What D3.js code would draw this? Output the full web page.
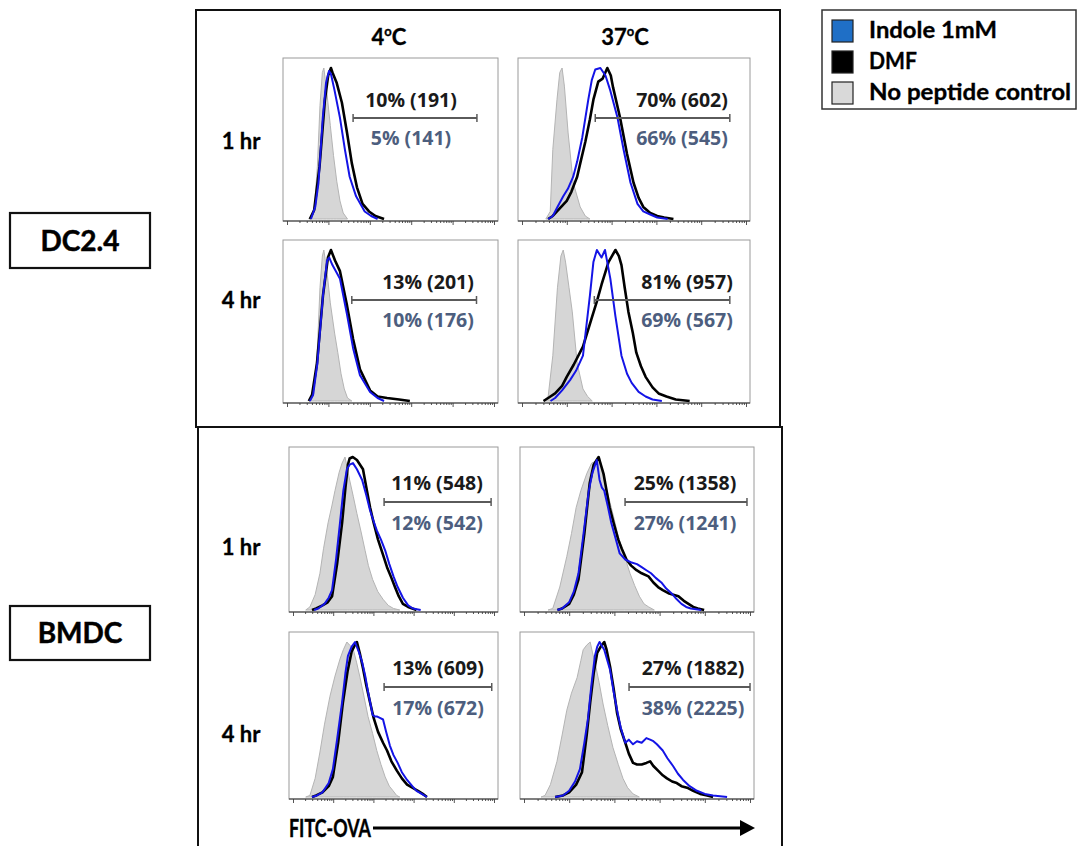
<!DOCTYPE html>
<html><head><meta charset="utf-8">
<script src="https://cdn.jsdelivr.net/npm/d3@7"></script>
<style>html,body{margin:0;padding:0;background:#fff}</style>
</head><body>
<svg id="chart" width="1079" height="846"></svg>
<script>
// ---------------- DATA ----------------
const cellLines = ["DC2.4", "BMDC"];
const times = ["1 hr", "4 hr"];
const temps = ["4", "37"];
const legendLabels = ["Indole 1mM", "DMF", "No peptide control"];
const axisLabel = "FITC-OVA";

// panel order: DC2.4 1h 4C, DC2.4 1h 37C, DC2.4 4h 4C, DC2.4 4h 37C, BMDC 1h 4C, BMDC 1h 37C, BMDC 4h 4C, BMDC 4h 37C
const statsDMF = ["10% (191)", "70% (602)", "13% (201)", "81% (957)", "11% (548)", "25% (1358)", "13% (609)", "27% (1882)"];
const statsIndole = ["5% (141)", "66% (545)", "10% (176)", "69% (567)", "12% (542)", "27% (1241)", "17% (672)", "38% (2225)"];
const gateStart = [32.6, 33.3, 32.0, 32.9, 45.5, 44.9, 45.5, 46.6];
const gateEnd = [90.2, 91.3, 90.0, 91.3, 96.7, 97.0, 97.0, 98.3];

// histograms: [fluorescence (% of axis), count (% of max)]
const dc1h4Grey = [[12,0],[14.5,5],[16,35],[17.2,75],[18.3,97],[19,100],[20.3,85],[22,62],[23.5,42],[25,25],[26.5,12],[28,4],[30,0]];
const dc1h4Blue = [[13,0],[15,8],[16.5,24],[18.5,67],[20,90],[21.4,98],[22.3,96],[24,85],[26.5,67],[28.8,46],[31,28],[34,15],[38,5],[41,2],[44,0]];
const dc1h4Black = [[12.5,0],[14.5,6],[17,35],[19.5,79],[21,95],[22.3,100],[23,97],[25,90],[27.4,77],[29.8,57],[32,37],[34.4,21],[37,10],[40,5],[43,2],[47,0]];

const dc1h37Grey = [[12,0],[13.9,5],[15,46],[16.8,79],[18,97],[19,100],[20,88],[21.6,57],[23.8,24],[26.8,8],[29,2],[31,0]];
const dc1h37Blue = [[13,0],[15,2],[17,8],[19.5,15],[21.5,20],[23.8,28],[25.5,38],[27.7,54],[30.3,79],[31.8,92],[33.3,99],[35.5,100],[37.7,95],[39.8,85],[42.9,67],[45.5,46],[48.5,24],[51.5,10],[54,5],[57,3],[60,1],[64.5,0]];
const dc1h37Black = [[13,0],[15,2],[18,7],[21,12],[23,18],[25.5,28],[27,38],[29,51],[31,66],[32.5,79],[34.6,91],[36.5,93],[38.5,100],[40,95],[41,87],[44,67],[47,43],[49.8,24],[52,14],[54,8],[57,4],[60,2],[63,1],[67,0]];

const dc4h4Grey = [[12,0],[14.5,5],[16,35],[17.2,75],[18.3,96],[19,100],[20.5,85],[22,65],[24,45],[25.5,32],[27,18],[28.5,8],[30,2],[32,0]];
const dc4h4Blue = [[12.5,0],[14,4],[16,25],[18.6,70],[20.5,93],[21.5,95],[23,90],[26.5,81],[29.8,57],[32.6,35],[35.8,17],[40.5,6],[44,2],[47,0]];
const dc4h4Black = [[12,0],[13.5,4],[15.8,25],[18.6,70],[20.9,95],[22.3,100],[24.2,93],[26.5,86],[29.8,63],[32.6,41],[35.8,21],[40.5,7],[44,3],[48.4,2],[54,1],[59,0]];

const dc4h37Grey = [[11,0],[13,3],[15,30],[17,75],[18.5,96],[19.5,100],[20.5,92],[22,75],[23.4,59],[25.5,25],[28,8],[30,3],[32,0]];
const dc4h37Blue = [[14,0],[16,2],[19,7],[22.5,14],[25,20],[28,30],[29.5,50],[31,70],[32.5,92],[34,100],[36,95],[37.5,100],[39.8,81],[42,56],[44.6,30],[47,18],[49,12],[52,6],[55,3],[58,1],[62,0]];
const dc4h37Black = [[11,0],[13,2],[16,5],[19,10],[21,16],[24,24],[28,36],[31.6,54],[34,66],[36,77],[39,92],[42,100],[43.5,96],[44.6,90],[46,75],[47.6,59],[49.5,45],[51,32],[53,23],[55,16],[58,9],[60.6,5],[64,3],[68,1],[74,0]];

const bm1h4Grey = [[8,0],[10,2],[12.5,10],[14.8,24],[16.5,40],[18.7,57],[20.5,68],[22,78],[24,90],[25.4,96],[26.8,100],[28,92],[29,85],[30.8,74],[32.5,63],[34.5,51],[36.4,39],[38,29],[40,20],[42.5,12],[45,7],[47.5,3],[50,1],[53,0]];
const bm1h4Blue = [[12,0],[14,1],[17,4],[19,8],[20.6,13],[22.5,33],[24.4,57],[26,78],[27.7,92],[29,95],[30.6,96],[32.5,92],[35,85],[37,75],[38.8,65],[40.5,58],[42,52],[44,46],[46,39],[48,30],[50,22],[52,15],[54.5,8],[57,3],[59.3,1],[63,0]];
const bm1h4Black = [[11,0],[13,1],[16,3],[18.5,5],[20.6,9],[23,30],[25.4,57],[27,80],[28.2,95],[29,99],[30.5,100],[32.5,98],[35.4,92],[37,80],[38.8,67],[40.5,57],[42.6,46],[45,36],[46.9,28],[49,21],[50.7,15],[52.5,9],[54.5,4],[57,2],[61,0]];

const bm1h37Grey = [[12,0],[14,1],[17,15],[20,35],[22,50],[24,67],[26,78],[28.5,89],[30.6,96],[32,97],[34,100],[35,92],[36,85],[38,73],[40,61],[42,48],[44.7,35],[47,24],[49,16],[51,9],[53,4],[55,2],[57.4,0]];
const bm1h37Blue = [[16,0],[18,1],[21,5],[23,12],[25,24],[27,48],[29.4,78],[31,90],[32.8,98],[34,85],[35,80],[36,78],[37.5,68],[39,57],[40.8,47],[42.6,37],[45,33],[47.7,31],[50,30],[52,28],[54,26],[56,24],[58,21],[60.4,18],[62.5,14],[64.7,11],[67,7],[69,4],[71,2],[73,1],[77.4,0]];
const bm1h37Black = [[16,0],[18,1],[21,4],[23,10],[25,20],[27.5,50],[29.8,83],[31.5,95],[33.6,100],[35.7,89],[37,78],[38.3,67],[40,57],[42,46],[43.5,40],[45.5,33],[47.5,29],[49.8,26],[52,24],[54.9,22],[57,18],[59,15],[61,13],[63.4,11],[65.5,10],[67.7,9],[70,6],[72,4],[74,2],[76,1],[78.7,0]];

const bm4h4Grey = [[8,0],[10,1],[12.5,12],[14.8,29],[17,47],[19.6,65],[22,78],[24.4,89],[26,95],[27.7,100],[29,98],[30.6,96],[32.3,87],[34,77],[36,64],[37.8,52],[40,41],[42,30],[44,21],[46,13],[48,7],[49.8,4],[51.5,1],[53,0]];
const bm4h4Blue = [[11,0],[13.4,1],[16,3],[19,9],[21,18],[23,37],[25.4,61],[27,80],[28.2,91],[30,97],[31.6,100],[33.3,94],[35,87],[36.5,78],[37.8,68],[39,60],[40,53],[41,52],[42,52],[43.5,51],[45,50],[46.5,42],[48.3,33],[50,27],[52,22],[54,16],[56.5,11],[59,7],[61,4],[63.5,2],[66,0]];
const bm4h4Black = [[11,0],[13,1],[16,3],[19,7],[21,13],[23.5,35],[25.8,61],[28,81],[30,94],[31.5,98],[32.5,100],[34,92],[35.4,83],[37,72],[38.8,61],[40.5,51],[42.6,42],[45,35],[46.9,30],[49,23],[51.6,17],[54,12],[56.5,8],[59,6],[61.7,4],[64,2],[66,0]];

const bm4h37Grey = [[9,0],[10.7,1],[13,8],[15.8,23],[18,40],[20,56],[22,67],[24.4,77],[26,88],[27,95],[28.5,98],[30,100],[31,93],[32,87],[33.8,74],[35.5,60],[37.5,46],[39.7,32],[42,21],[44,12],[46,6],[48.3,2],[51,0]];
const bm4h37Blue = [[15,0],[18.4,1],[21,4],[23.5,10],[25.6,18],[27.5,35],[29,50],[30.5,72],[32,91],[33,97],[34,100],[36,95],[38.5,82],[40,68],[41.5,56],[43,45],[45,35],[46.5,37],[48.3,34],[50,36],[52,35],[54,38],[55.6,37],[57,36],[58.5,34],[61,30],[63,25],[65.4,20],[67.5,15],[69.7,11],[72.5,7],[75.6,4],[79,2],[82.5,1],[88.5,0]];
const bm4h37Black = [[15,0],[18.4,1],[21,3],[24,8],[26.5,16],[28.5,40],[30,61],[31.5,80],[33,93],[34.5,97],[36,100],[37,95],[38.5,84],[40,70],[41.5,54],[43,44],[45,35],[46.5,28],[48.3,22],[50,21],[52,21],[54,22],[55.6,23],[57,20],[59,17],[61,14],[62.8,12],[65,10],[67,9],[69,7],[71.4,6],[74,4],[77,2],[80,1],[82.5,0]];

const greySeries = [dc1h4Grey, dc1h37Grey, dc4h4Grey, dc4h37Grey, bm1h4Grey, bm1h37Grey, bm4h4Grey, bm4h37Grey];
const blueSeries = [dc1h4Blue, dc1h37Blue, dc4h4Blue, dc4h37Blue, bm1h4Blue, bm1h37Blue, bm4h4Blue, bm4h37Blue];
const blackSeries = [dc1h4Black, dc1h37Black, dc4h4Black, dc4h37Black, bm1h4Black, bm1h37Black, bm4h4Black, bm4h37Black];

// ---------------- LAYOUT ----------------
const svg = d3.select("#chart");
const labelFont = "Lato, 'Open Sans', sans-serif";
const numFont = "'Open Sans', sans-serif";
const colBlue = "#1414e6", colBlack = "#000", colGreyFill = "#d6d6d6", colGreyLine = "#b4b4b4";
const colStat2 = "#4d5e7e";

const panels = [
  {x0:283,x1:498,y0:58,y1:221, lx:128},
  {x0:518,x1:750,y0:58,y1:221, lx:164},
  {x0:283,x1:498,y0:240,y1:403, lx:145},
  {x0:518,x1:750,y0:240,y1:403, lx:169},
  {x0:289,x1:498,y0:447,y1:612, lx:148},
  {x0:520,x1:754,y0:447,y1:612, lx:165},
  {x0:289,x1:498,y0:632,y1:799, lx:149},
  {x0:520,x1:754,y0:632,y1:799, lx:173}
];

// outer group boxes
svg.append("rect").attr("x",196).attr("y",10).attr("width",584).attr("height",417)
  .attr("fill","none").attr("stroke","#111").attr("stroke-width",2);
svg.append("rect").attr("x",198).attr("y",427).attr("width",584).attr("height",430)
  .attr("fill","none").attr("stroke","#111").attr("stroke-width",2);

// cell line labels
const cellBoxes = [{y:213,h:55},{y:606,h:54}];
cellLines.forEach((c,i)=>{
  const b = cellBoxes[i];
  svg.append("rect").attr("x",10).attr("y",b.y).attr("width",140).attr("height",b.h)
    .attr("fill","#fff").attr("stroke","#111").attr("stroke-width",2.2);
  svg.append("text").attr("x",80).attr("y",b.y+b.h/2+10).attr("text-anchor","middle")
    .attr("font-family",labelFont).attr("font-weight","bold").attr("font-size",28)
    .attr("stroke","#000").attr("stroke-width",0.5).text(c);
});

// temperature headers
const headerX = [389, 625];
temps.forEach((t,i)=>{
  const tx = svg.append("text").attr("x",headerX[i]).attr("y",45).attr("text-anchor","middle")
    .attr("font-family",labelFont).attr("font-weight","bold").attr("font-size",22)
    .attr("stroke","#000").attr("stroke-width",0.3);
  tx.append("tspan").text(t);
  tx.append("tspan").attr("font-size",13).attr("dy",-9).text("o");
  tx.append("tspan").attr("dy",9).text("C");
});

// time labels
const rowLabelY = [149, 308, 555, 742];
rowLabelY.forEach((y,i)=>{
  svg.append("text").attr("x",241).attr("y",y).attr("text-anchor","middle")
    .attr("font-family",labelFont).attr("font-weight","bold").attr("font-size",22)
    .attr("stroke","#000").attr("stroke-width",0.3).text(times[i%2]);
});

// panels
panels.forEach((p,i)=>{
  const g = svg.append("g");
  const x = d3.scaleLinear().domain([0,100]).range([p.x0,p.x1]);
  const y = d3.scaleLinear().domain([0,100]).range([p.y1-2, p.y0+10]);
  const logX = d3.scaleLog().domain([1,1e5]).range([p.x0+4,p.x1-4]);
  g.append("rect").attr("x",p.x0).attr("y",p.y0).attr("width",p.x1-p.x0).attr("height",p.y1-p.y0)
    .attr("fill","#fff").attr("stroke","#9a9a9a").attr("stroke-width",1);
  const area = d3.area().x(d=>x(d[0])).y0(y(0)).y1(d=>y(d[1]));
  const line = d3.line().x(d=>x(d[0])).y(d=>y(d[1]));
  g.append("path").datum(greySeries[i]).attr("d",area).attr("fill",colGreyFill).attr("stroke",colGreyLine).attr("stroke-width",1);
  g.append("path").datum(blackSeries[i]).attr("d",line).attr("fill","none").attr("stroke",colBlack).attr("stroke-width",2.6).attr("stroke-linejoin","round");
  g.append("path").datum(blueSeries[i]).attr("d",line).attr("fill","none").attr("stroke",colBlue).attr("stroke-width",2).attr("stroke-linejoin","round");
  // axis ticks
  const minor = [], major = [];
  for (let k=0;k<5;k++) for (let m=1;m<10;m++){ (m===1?major:minor).push(m*Math.pow(10,k)); }
  major.push(1e5);
  const ax1 = g.append("g").attr("transform",`translate(0,${p.y1})`)
    .call(d3.axisBottom(logX).tickValues(minor).tickSize(2).tickFormat(""));
  const ax2 = g.append("g").attr("transform",`translate(0,${p.y1})`)
    .call(d3.axisBottom(logX).tickValues(major).tickSize(4).tickFormat(""));
  [ax1,ax2].forEach(a=>{a.select(".domain").remove(); a.selectAll("line").attr("stroke","#555");});
  g.append("line").attr("x1",p.x0).attr("x2",p.x1).attr("y1",p.y1).attr("y2",p.y1).attr("stroke","#333").attr("stroke-width",1.2);
  // gate
  const isDC = i < 4;
  const gy = p.y0 + (isDC ? 60 : 55);
  g.append("line").attr("x1",x(gateStart[i])).attr("x2",x(gateEnd[i])).attr("y1",gy).attr("y2",gy)
    .attr("stroke","#5a5a5a").attr("stroke-width",2);
  [gateStart[i], gateEnd[i]].forEach(v=>{
    g.append("line").attr("x1",x(v)).attr("x2",x(v)).attr("y1",gy-4).attr("y2",gy+4).attr("stroke","#5a5a5a").attr("stroke-width",1.5);
  });
  const cx = p.x0 + p.lx;
  g.append("text").attr("x",cx).attr("y",p.y0 + (isDC?42:36) + 7).attr("text-anchor","middle")
    .attr("font-family",numFont).attr("font-weight",700).attr("font-size",19.5).attr("fill","#1a1a1a").text(statsDMF[i]);
  g.append("text").attr("x",cx).attr("y",p.y0 + (isDC?80:76) + 7).attr("text-anchor","middle")
    .attr("font-family",numFont).attr("font-weight",700).attr("font-size",19.5).attr("fill",colStat2).text(statsIndole[i]);
});

// x axis label + arrow
svg.append("text").attr("x",289).attr("y",837).attr("font-family",labelFont).attr("font-weight","bold")
  .attr("font-size",24).attr("textLength",82).attr("lengthAdjust","spacingAndGlyphs")
  .attr("stroke","#000").attr("stroke-width",0.4).text(axisLabel);
svg.append("line").attr("x1",373).attr("x2",742).attr("y1",828).attr("y2",828).attr("stroke","#000").attr("stroke-width",3);
svg.append("path").attr("d","M740,820 L755,828 L740,836 Z").attr("fill","#000");

// legend
svg.append("rect").attr("x",822).attr("y",10).attr("width",254).attr("height",99)
  .attr("fill","#fff").attr("stroke","#333").attr("stroke-width",1.5);
const legFill = ["#1f6fc6", "#000", "#d9d9d9"];
const legWidth = [128, 48, 202];
legendLabels.forEach((l,i)=>{
  const cy = 31 + i*31;
  svg.append("rect").attr("x",832).attr("y",cy-11).attr("width",21).attr("height",22)
    .attr("fill",legFill[i]).attr("stroke","#222").attr("stroke-width",1.2);
  svg.append("text").attr("x",869).attr("y",cy+7).attr("font-family",labelFont).attr("font-weight","bold")
    .attr("font-size",22).attr("textLength",legWidth[i]).attr("lengthAdjust","spacingAndGlyphs")
    .attr("stroke","#000").attr("stroke-width",0.3).text(l);
});
</script>
</body></html>
